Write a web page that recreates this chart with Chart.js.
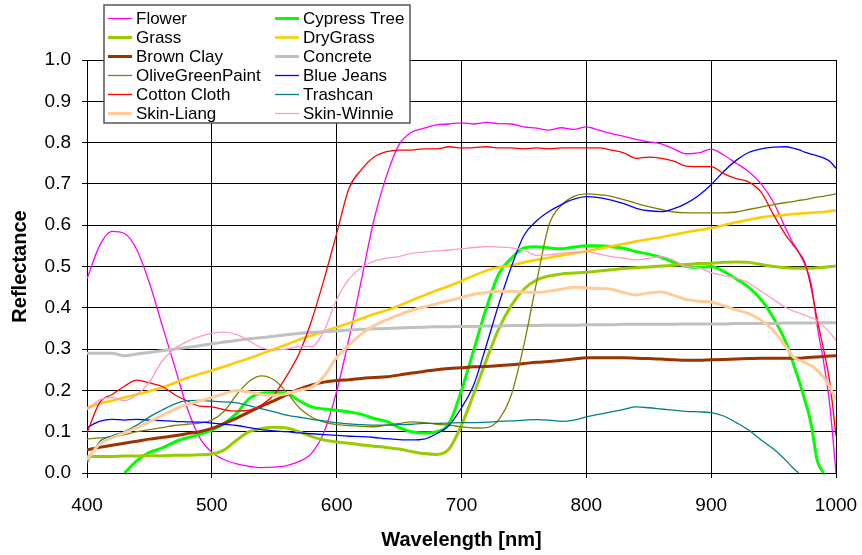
<!DOCTYPE html>
<html>
<head>
<meta charset="utf-8">
<script src="https://cdn.jsdelivr.net/npm/chart.js@4.4.1/dist/chart.umd.min.js"></script>
<style>
  html, body { margin: 0; padding: 0; background: #fff; }
  #wrap { width: 862px; height: 555px; position: relative; }
</style>
</head>
<body>
<div id="wrap"><canvas id="c" width="862" height="555"></canvas></div>
<script>
// ---------- DATA ----------
const wavelengths = [
  400,410,420,430,440,450,460,470,480,490,
  500,510,520,530,540,550,560,570,580,590,
  600,610,620,630,640,650,660,670,680,690,
  700,710,720,730,740,750,760,770,780,790,
  800,810,820,830,840,850,860,870,880,890,
  900,910,920,930,940,950,960,
  965,970,975,980,985,990,995,1000
];
const xTicks = [400,500,600,700,800,900,1000];
const yTicks = [0,0.1,0.2,0.3,0.4,0.5,0.6,0.7,0.8,0.9,1.0];

const flower = [
  0.47,0.55,0.585,0.58,0.54,0.46,0.36,0.26,0.16,0.087,
  0.05,0.032,0.022,0.016,0.013,0.014,0.018,0.028,0.048,0.10,
  0.198,0.327,0.47,0.615,0.72,0.795,0.825,0.835,0.843,0.845,
  0.848,0.845,0.849,0.846,0.845,0.838,0.835,0.83,0.836,0.832,
  0.838,0.83,0.822,0.815,0.808,0.802,0.797,0.785,0.773,0.775,
  0.784,0.77,0.75,0.73,0.70,0.655,0.59,
  0.56,0.535,0.505,0.46,0.355,0.27,0.165,0.0
];
const cypressTree = [
  null,null,null,0.0,0.03,0.05,0.06,0.075,0.085,0.093,
  0.104,0.12,0.145,0.18,0.193,0.195,0.193,0.175,0.16,0.155,
  0.152,0.148,0.142,0.132,0.125,0.11,0.1,0.097,0.1,0.12,
  0.2,0.3,0.4,0.483,0.52,0.545,0.548,0.545,0.543,0.547,
  0.55,0.55,0.548,0.544,0.536,0.53,0.522,0.51,0.5,0.498,
  0.5,0.488,0.47,0.45,0.42,0.375,0.315,
  0.272,0.227,0.177,0.12,0.03,0.0,null,null
];
const grass = [
  0.04,0.04,0.04,0.041,0.041,0.042,0.042,0.043,0.043,0.044,
  0.046,0.056,0.08,0.1,0.108,0.111,0.109,0.1,0.088,0.08,
  0.075,0.072,0.068,0.065,0.062,0.058,0.052,0.047,0.045,0.058,
  0.116,0.193,0.274,0.35,0.406,0.445,0.467,0.477,0.482,0.484,
  0.486,0.489,0.492,0.495,0.497,0.499,0.501,0.503,0.505,0.507,
  0.508,0.51,0.511,0.51,0.505,0.5,0.497,
  0.496,0.496,0.496,0.496,0.497,0.498,0.5,0.501
];
const dryGrass = [
  0.157,0.168,0.175,0.183,0.19,0.198,0.207,0.218,0.23,0.24,
  0.248,0.258,0.268,0.278,0.289,0.3,0.311,0.323,0.333,0.343,
  0.353,0.363,0.374,0.385,0.394,0.405,0.418,0.43,0.442,0.453,
  0.465,0.478,0.49,0.498,0.503,0.51,0.516,0.521,0.527,0.532,
  0.537,0.543,0.549,0.555,0.561,0.566,0.571,0.577,0.583,0.588,
  0.593,0.6,0.607,0.613,0.619,0.623,0.625,
  0.627,0.628,0.629,0.63,0.631,0.632,0.634,0.636
];
const brownClay = [
  0.056,0.062,0.067,0.072,0.077,0.082,0.086,0.09,0.095,0.1,
  0.108,0.12,0.133,0.148,0.162,0.175,0.19,0.203,0.213,0.22,
  0.224,0.226,0.229,0.231,0.233,0.237,0.242,0.246,0.25,0.253,
  0.255,0.257,0.258,0.26,0.262,0.265,0.268,0.27,0.273,0.276,
  0.279,0.279,0.279,0.279,0.278,0.277,0.276,0.274,0.273,0.273,
  0.274,0.275,0.276,0.277,0.278,0.278,0.278,
  0.278,0.278,0.279,0.28,0.281,0.282,0.283,0.284
];
const concrete = [
  0.29,0.29,0.29,0.284,0.288,0.292,0.296,0.3,0.304,0.308,
  0.313,0.317,0.321,0.325,0.328,0.331,0.335,0.338,0.34,0.342,
  0.344,0.346,0.348,0.349,0.35,0.351,0.352,0.353,0.354,0.354,
  0.355,0.355,0.356,0.356,0.357,0.357,0.357,0.358,0.358,0.358,
  0.359,0.359,0.359,0.36,0.36,0.36,0.36,0.36,0.361,0.361,
  0.361,0.361,0.362,0.362,0.362,0.362,0.363,
  0.363,0.363,0.363,0.363,0.364,0.364,0.364,0.364
];
const oliveGreenPaint = [
  0.082,0.085,0.087,0.093,0.1,0.105,0.11,0.115,0.118,0.121,
  0.128,0.15,0.19,0.222,0.235,0.225,0.195,0.158,0.135,0.123,
  0.117,0.115,0.113,0.112,0.116,0.12,0.124,0.122,0.118,0.116,
  0.112,0.109,0.11,0.13,0.19,0.31,0.46,0.6,0.648,0.67,
  0.676,0.674,0.67,0.662,0.653,0.645,0.638,0.632,0.63,0.63,
  0.63,0.63,0.632,0.638,0.644,0.65,0.655,
  0.657,0.66,0.662,0.665,0.668,0.67,0.673,0.676
];
const blueJeans = [
  0.11,0.125,0.13,0.128,0.13,0.128,0.127,0.125,0.124,0.123,
  0.121,0.118,0.115,0.11,0.105,0.102,0.1,0.097,0.095,0.093,
  0.091,0.089,0.088,0.086,0.083,0.081,0.08,0.082,0.095,0.115,
  0.158,0.215,0.31,0.41,0.5,0.575,0.61,0.633,0.65,0.663,
  0.669,0.667,0.661,0.652,0.641,0.635,0.633,0.64,0.653,0.672,
  0.698,0.73,0.757,0.776,0.785,0.789,0.79,
  0.787,0.783,0.777,0.772,0.768,0.763,0.755,0.738
];
const cottonCloth = [
  0.097,0.17,0.19,0.21,0.225,0.218,0.21,0.19,0.175,0.162,
  0.16,0.153,0.15,0.152,0.165,0.19,0.235,0.29,0.37,0.47,
  0.58,0.69,0.735,0.765,0.778,0.782,0.782,0.785,0.785,0.79,
  0.787,0.788,0.79,0.787,0.787,0.785,0.787,0.785,0.787,0.787,
  0.787,0.787,0.782,0.775,0.762,0.765,0.762,0.755,0.743,0.742,
  0.742,0.725,0.713,0.705,0.68,0.625,0.575,
  0.555,0.535,0.51,0.45,0.37,0.3,0.22,0.09
];
const trashcan = [
  0.024,0.075,0.09,0.1,0.116,0.136,0.152,0.167,0.175,0.176,
  0.174,0.172,0.17,0.163,0.155,0.148,0.14,0.135,0.13,0.126,
  0.122,0.119,0.117,0.116,0.116,0.117,0.118,0.12,0.12,0.121,
  0.122,0.122,0.123,0.125,0.126,0.128,0.129,0.128,0.125,0.128,
  0.136,0.142,0.148,0.154,0.16,0.158,0.155,0.152,0.149,0.148,
  0.146,0.138,0.122,0.104,0.08,0.058,0.03,
  0.014,0.0,null,null,null,null,null,null
];
const skinLiang = [
  0.031,0.07,0.085,0.097,0.11,0.124,0.139,0.154,0.166,0.174,
  0.183,0.192,0.2,0.196,0.19,0.188,0.192,0.2,0.208,0.235,
  0.28,0.31,0.337,0.357,0.371,0.383,0.394,0.402,0.41,0.417,
  0.425,0.433,0.437,0.44,0.44,0.438,0.437,0.44,0.445,0.45,
  0.448,0.447,0.445,0.437,0.431,0.436,0.438,0.43,0.42,0.416,
  0.414,0.405,0.395,0.386,0.37,0.345,0.305,
  0.283,0.273,0.268,0.26,0.248,0.232,0.209,0.177
];
const skinWinnie = [
  0.153,0.177,0.183,0.175,0.19,0.22,0.27,0.3,0.318,0.33,
  0.338,0.341,0.335,0.32,0.303,0.298,0.3,0.306,0.306,0.345,
  0.42,0.47,0.498,0.513,0.52,0.524,0.532,0.535,0.538,0.54,
  0.543,0.546,0.548,0.547,0.545,0.54,0.527,0.528,0.532,0.535,
  0.536,0.53,0.524,0.52,0.516,0.52,0.524,0.515,0.5,0.497,
  0.485,0.478,0.472,0.46,0.44,0.42,0.4,
  0.393,0.388,0.382,0.376,0.37,0.355,0.34,0.322
];

const seriesNames = ['Flower','Cypress Tree','Grass','DryGrass','Brown Clay','Concrete',
  'OliveGreenPaint','Blue Jeans','Cotton Cloth','Trashcan','Skin-Liang','Skin-Winnie'];
const seriesValues = [flower, cypressTree, grass, dryGrass, brownClay, concrete,
  oliveGreenPaint, blueJeans, cottonCloth, trashcan, skinLiang, skinWinnie];

// ---------- STYLE ----------
const seriesColors = ['#FF00FF','#00FF00','#99CC00','#FFCC00','#993300','#C0C0C0',
  '#808000','#0000FF','#FF0000','#008080','#FFCC99','#FF99CC'];
const seriesWidths = [1.3,3,3,2.6,3,3,1.3,1.3,1.3,1.3,3,1.3];
const FONT = '"Liberation Sans", Arial, Helvetica, sans-serif';

const datasets = seriesNames.map((name, i) => ({
  label: name,
  data: wavelengths.map((w, k) => ({ x: w, y: seriesValues[i][k] })),
  borderColor: seriesColors[i],
  backgroundColor: seriesColors[i],
  borderWidth: seriesWidths[i],
  pointRadius: 0,
  fill: false,
  spanGaps: false,
  cubicInterpolationMode: 'monotone',
  order: seriesNames.length - i
}));

const boxLegend = {
  id: 'boxLegend',
  afterDraw(chart) {
    const ctx = chart.ctx;
    const x0 = 104, y0 = 5, w = 306, h = 118;
    ctx.save();
    ctx.fillStyle = '#fff';
    ctx.fillRect(x0, y0, w, h);
    ctx.strokeStyle = '#555';
    ctx.lineWidth = 1.5;
    ctx.strokeRect(x0, y0, w, h);
    ctx.font = '17px ' + FONT;
    ctx.textBaseline = 'middle';
    ctx.textAlign = 'left';
    chart.data.datasets.forEach((ds, i) => {
      const col = i % 2, row = Math.floor(i / 2);
      const lx = col ? 275 : 108;
      const y = 18.5 + row * 19;
      ctx.strokeStyle = ds.borderColor;
      ctx.lineWidth = ds.borderWidth;
      ctx.beginPath();
      ctx.moveTo(lx, y);
      ctx.lineTo(lx + 24, y);
      ctx.stroke();
      ctx.fillStyle = '#000';
      ctx.fillText(ds.label, lx + 28, y + 1);
    });
    ctx.restore();
  }
};

new Chart(document.getElementById('c'), {
  type: 'line',
  data: { datasets },
  plugins: [boxLegend],
  options: {
    responsive: false,
    animation: false,
    devicePixelRatio: 1,
    layout: { padding: { top: 60, right: 26, left: 0, bottom: 0 } },
    plugins: { legend: { display: false }, tooltip: { enabled: false } },
    scales: {
      x: {
        type: 'linear',
        min: 400, max: 1000,
        afterBuildTicks: (s) => { s.ticks = xTicks.map(v => ({ value: v })); },
        afterFit: (s) => { s.height = 82; s.paddingLeft = 0; s.paddingRight = 0; },
        ticks: { color: '#000', font: { family: FONT, size: 19 }, padding: 16, maxRotation: 0,
                 callback: (v) => String(v) },
        grid: { color: '#000', lineWidth: 1, tickLength: 5, drawTicks: true },
        border: { color: '#000', width: 1 },
        title: { display: true, text: 'Wavelength [nm]', color: '#000',
                 font: { family: FONT, size: 20, weight: 'bold' }, padding: { top: 0, bottom: 3 } }
      },
      y: {
        min: 0, max: 1,
        afterBuildTicks: (s) => { s.ticks = yTicks.map(v => ({ value: v })); },
        afterFit: (s) => { s.width = 87; s.paddingTop = 0; s.paddingBottom = 0; },
        ticks: { color: '#000', font: { family: FONT, size: 19 }, padding: 11,
                 callback: (v) => Number(v).toFixed(1) },
        grid: { color: '#000', lineWidth: 1, tickLength: 5, drawTicks: true },
        border: { color: '#000', width: 1 },
        title: { display: true, text: 'Reflectance', color: '#000',
                 font: { family: FONT, size: 20, weight: 'bold' }, padding: { top: 8, bottom: 0 } }
      }
    }
  }
});
</script>
</body>
</html>
